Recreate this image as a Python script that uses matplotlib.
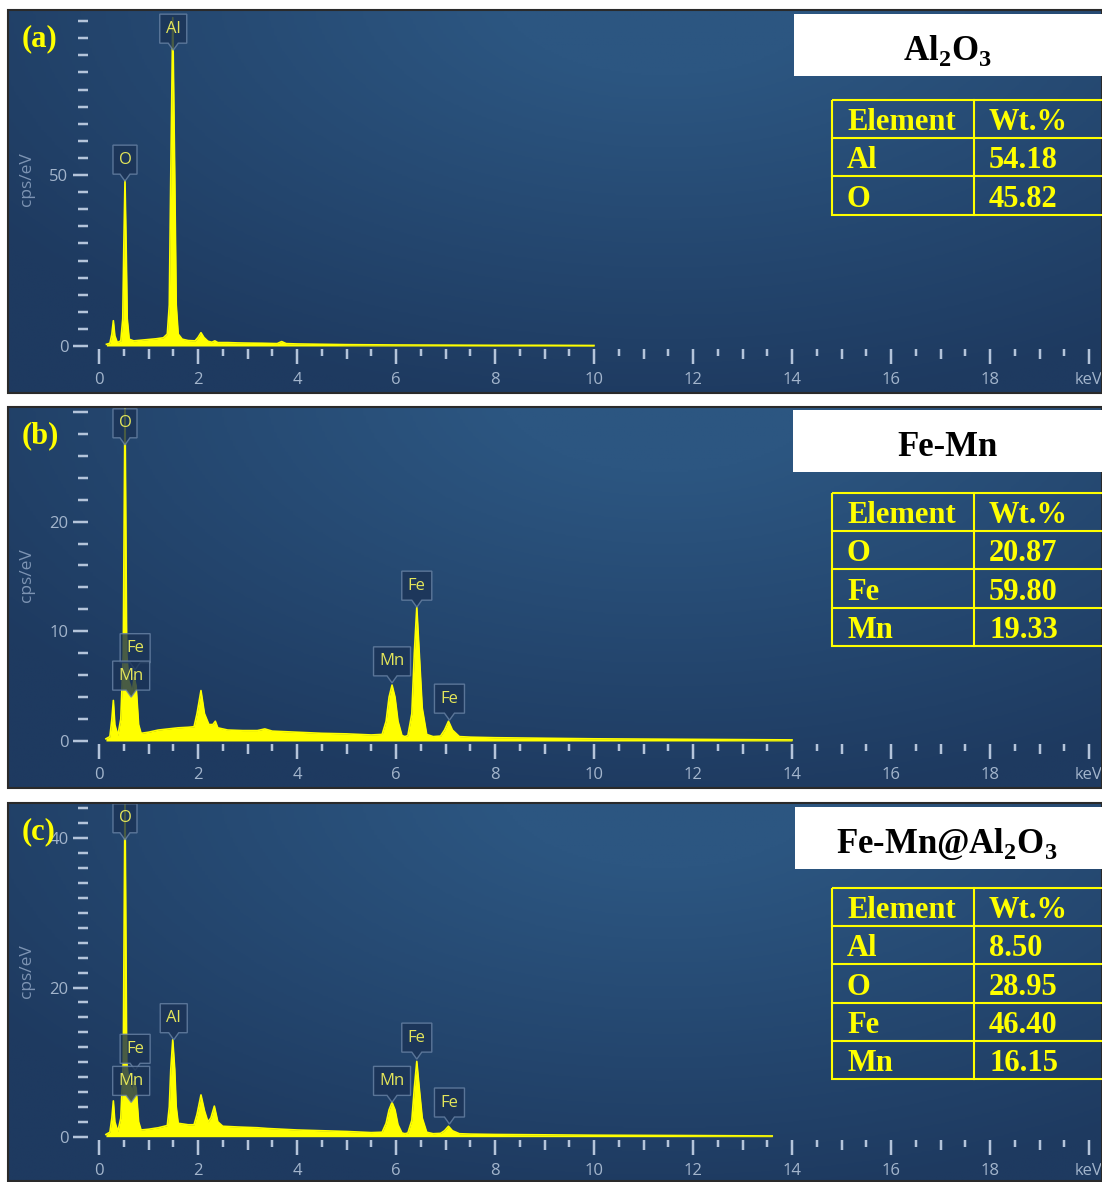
import numpy as np
import matplotlib.pyplot as plt
import matplotlib.transforms as mtransforms
from matplotlib.colors import LinearSegmentedColormap
from matplotlib.patches import Rectangle, Polygon

plt.rcParams['font.family'] = ['Open Sans', 'DejaVu Sans']
plt.rcParams['mathtext.fontset'] = 'custom'
plt.rcParams['mathtext.rm'] = 'Liberation Serif:bold'
plt.rcParams['mathtext.bf'] = 'Liberation Serif:bold'

W, H = 1102, 1182

# EDS spectra (keV, cps/eV)
energy_a = [0.15, 0.22, 0.26, 0.29, 0.32, 0.37, 0.44, 0.48, 0.50, 0.525,
            0.55, 0.57, 0.61, 0.70, 0.85, 1.00, 1.15, 1.30, 1.38, 1.42,
            1.45, 1.49, 1.53, 1.56, 1.60, 1.68, 1.80, 1.94, 2.00, 2.06,
            2.12, 2.20, 2.28, 2.34, 2.40, 2.60, 2.80, 3.00, 3.30, 3.60,
            3.69, 3.78, 4.00, 4.50, 5.00, 6.00, 7.00, 8.00, 9.00, 10.0]
counts_a = [0.5, 0.8, 3.5, 7.4, 3.0, 1.0, 1.5, 8.0, 28.0, 48.5,
            28.0, 8.0, 2.0, 1.5, 1.7, 1.9, 2.1, 2.4, 3.5, 12.0,
            50.0, 96.0, 50.0, 12.0, 3.5, 2.0, 1.6, 1.5, 2.5, 3.9,
            2.5, 1.4, 1.1, 1.5, 1.0, 1.0, 0.9, 0.85, 0.8, 0.7,
            1.3, 0.7, 0.6, 0.5, 0.4, 0.3, 0.25, 0.2, 0.2, 0.15]

energy_b = [0.14, 0.22, 0.26, 0.29, 0.32, 0.38, 0.44, 0.49, 0.525, 0.56,
            0.60, 0.64, 0.67, 0.71, 0.75, 0.80, 0.85, 1.00, 1.20, 1.40,
            1.60, 1.80, 1.92, 1.98, 2.06, 2.13, 2.22, 2.30, 2.35, 2.40,
            2.60, 2.90, 3.20, 3.35, 3.50, 4.00, 4.50, 5.00, 5.50, 5.72,
            5.80, 5.86, 5.92, 5.98, 6.04, 6.12, 6.18, 6.24, 6.32, 6.37,
            6.42, 6.47, 6.53, 6.62, 6.75, 6.90, 6.98, 7.06, 7.14, 7.28,
            7.50, 8.00, 9.00, 10.0, 12.0, 14.0]
counts_b = [0.2, 0.4, 2.0, 3.7, 1.5, 0.5, 2.0, 8.0, 31.0, 8.0,
            5.5, 5.0, 4.3, 5.8, 5.0, 1.5, 0.7, 0.8, 1.0, 1.1,
            1.2, 1.25, 1.3, 2.5, 4.6, 2.5, 1.5, 1.5, 1.8, 1.2,
            1.0, 0.95, 0.95, 1.1, 0.9, 0.8, 0.7, 0.65, 0.55, 0.6,
            1.8, 4.0, 5.1, 4.0, 1.8, 0.5, 0.4, 0.5, 2.5, 8.0,
            12.2, 8.0, 3.0, 0.6, 0.4, 0.45, 1.0, 1.8, 1.0, 0.4,
            0.35, 0.3, 0.25, 0.2, 0.15, 0.1]

energy_c = [0.14, 0.22, 0.26, 0.29, 0.32, 0.38, 0.44, 0.49, 0.525, 0.56,
            0.60, 0.64, 0.67, 0.71, 0.75, 0.80, 0.85, 1.00, 1.20, 1.38,
            1.42, 1.45, 1.49, 1.53, 1.56, 1.60, 1.80, 1.92, 1.98, 2.06,
            2.13, 2.20, 2.26, 2.33, 2.40, 2.50, 2.80, 3.20, 3.40, 4.00,
            4.50, 5.00, 5.50, 5.72, 5.80, 5.86, 5.92, 5.98, 6.04, 6.12,
            6.18, 6.24, 6.32, 6.37, 6.42, 6.47, 6.53, 6.62, 6.75, 6.90,
            6.98, 7.06, 7.14, 7.28, 7.50, 8.00, 9.00, 10.0, 12.0, 13.6]
counts_c = [0.3, 0.6, 2.5, 4.8, 2.0, 0.7, 2.5, 10.0, 46.0, 10.0,
            7.4, 6.8, 5.8, 7.4, 6.5, 2.0, 0.9, 1.0, 1.2, 1.5,
            4.0, 9.0, 13.0, 9.0, 4.0, 1.8, 1.6, 1.6, 3.0, 5.6,
            3.5, 2.0, 2.5, 4.1, 2.0, 1.4, 1.3, 1.2, 1.1, 0.9,
            0.8, 0.7, 0.55, 0.6, 1.8, 3.6, 4.6, 3.6, 1.6, 0.5,
            0.4, 0.5, 2.2, 6.5, 10.1, 6.5, 2.5, 0.6, 0.4, 0.45,
            0.8, 1.4, 0.8, 0.4, 0.35, 0.3, 0.25, 0.2, 0.15, 0.1]

# peak tags: element, energy, height of the pointer tip
peaks_a = [('O', 0.525, 48.2), ('Al', 1.50, 86.5)]
peaks_b = [('O', 0.525, 27.0), ('Fe', 0.73, 6.5), ('Mn', 0.65, 4.0),
           ('Mn', 5.92, 5.3), ('Fe', 6.42, 12.2), ('Fe', 7.08, 1.9)]
peaks_c = [('O', 0.525, 39.8), ('Fe', 0.73, 8.9), ('Mn', 0.65, 4.6), ('Al', 1.51, 13.0),
           ('Mn', 5.92, 4.6), ('Fe', 6.42, 10.4), ('Fe', 7.08, 1.7)]

titles = ['Al$_2$O$_3$', 'Fe-Mn', 'Fe-Mn@Al$_2$O$_3$']
panel_letters = ['(a)', '(b)', '(c)']
elements_a = ['Al', 'O']
wt_a = ['54.18', '45.82']
elements_b = ['O', 'Fe', 'Mn']
wt_b = ['20.87', '59.80', '19.33']
elements_c = ['Al', 'O', 'Fe', 'Mn']
wt_c = ['8.50', '28.95', '46.40', '16.15']

x_ticks = list(range(0, 21))
x_labels = ['0', '', '2', '', '4', '', '6', '', '8', '', '10', '', '12', '', '14', '',
            '16', '', '18', '', 'keV']

# layout in pixels: panel top, bottom, y of zero line, px per cps/eV
X0, PPK = 99.0, 49.5
layouts = [
    dict(top=10, bottom=393, zero=346, ppu=3.42, major=[0, 50], labels=['0', '50'], step=5, ymax=95),
    dict(top=407, bottom=788, zero=741, ppu=10.97, major=[0, 10, 20, 30], labels=['0', '10', '20', ''], step=2, ymax=30),
    dict(top=803, bottom=1181, zero=1136.7, ppu=7.46, major=[0, 20, 40], labels=['0', '20', '40'], step=2, ymax=44),
]
boxes = [dict(title=(794, 14, 76), table=100), dict(title=(793, 410, 472), table=493),
         dict(title=(795, 807, 869), table=888)]

TICK = '#b4c4da'
TLAB = '#a3b5cc'
YEL = '#ffff00'
TAG_W = {'O': 24, 'Al': 27, 'Fe': 30, 'Mn': 37}
PT = 0.72  # points per pixel at dpi 100

bg_cmap = LinearSegmentedColormap.from_list('bg', ['#1e3a60', '#2c5681'])

fig = plt.figure(figsize=(W / 100, H / 100), dpi=100)
fig.patch.set_facecolor('white')


def draw_tag(ax, name, e, v):
    w = TAG_W[name]
    trans = fig.dpi_scale_trans + mtransforms.ScaledTranslation(e, v, ax.transData)
    pts = np.array([[0, 0], [5, 7], [w / 2, 7], [w / 2, 36], [-w / 2, 36],
                    [-w / 2, 7], [-5, 7]]) / 100.0
    ax.add_patch(Polygon(pts, closed=True, transform=trans, facecolor='#1b3356',
                         edgecolor='#6a84a6', lw=1.0, alpha=0.8, zorder=5))
    ax.text(0, 0.215, name, transform=trans, ha='center', va='center',
            fontsize=12, color='#e4e65a', zorder=6)


def draw_panel(lay, energy, counts, peaks):
    top, bottom, zero, ppu = lay['top'], lay['bottom'], lay['zero'], lay['ppu']
    rect = [8 / W, 1 - bottom / H, (W - 8) / W, (bottom - top) / H]

    bg = fig.add_axes(rect, zorder=0)
    yy, xx = np.mgrid[0:1:200j, 0:1:400j]
    d = np.hypot((xx - 0.6) / 0.75, (yy - 1.05) / 1.1)
    bg.imshow(np.clip(1 - d, 0, 1), cmap=bg_cmap, extent=[0, 1, 0, 1],
              origin='lower', aspect='auto', vmin=0, vmax=0.8)
    bg.axis('off')

    ax = fig.add_axes(rect, zorder=1)
    ax.set_facecolor('none')
    ax.fill_between(energy, counts, 0, color=YEL, lw=0, zorder=2)
    ax.plot(energy, counts, color=YEL, lw=1.2, zorder=3)
    ax.set_xlim((8 - X0) / PPK, (W - X0) / PPK)
    ax.set_ylim(-(bottom - zero) / ppu, (zero - top) / ppu)

    for s in ax.spines.values():
        s.set_visible(False)
    ax.spines['left'].set_position(('data', (87.5 - X0) / PPK))
    ax.spines['bottom'].set_position(('data', -3 / ppu))

    ax.set_xticks(x_ticks, labels=x_labels)
    ax.set_xticks(np.arange(0.5, 20, 1.0), minor=True)
    ax.set_yticks(lay['major'], labels=lay['labels'])
    ax.set_yticks(np.arange(0, lay['ymax'] + 0.1, lay['step']), minor=True)
    ax.tick_params(which='both', direction='out', color=TICK, width=2.5 * PT,
                   labelcolor=TLAB, labelsize=12)
    ax.tick_params(axis='x', which='major', length=15 * PT, pad=8 * PT)
    ax.tick_params(axis='x', which='minor', length=7 * PT)
    ax.tick_params(axis='y', which='major', length=15 * PT, pad=4 * PT)
    ax.tick_params(axis='y', which='minor', length=10 * PT)
    for t, v in zip(ax.xaxis.get_major_ticks(), x_ticks):
        if v % 2:
            t.tick1line.set_markersize(10 * PT)

    for name, e, v in peaks:
        draw_tag(ax, name, e, v)
    return ax


draw_panel(layouts[0], energy_a, counts_a, peaks_a)
draw_panel(layouts[1], energy_b, counts_b, peaks_b)
draw_panel(layouts[2], energy_c, counts_c, peaks_c)

# overlay in pixel coordinates for frames, titles and tables
ov = fig.add_axes([0, 0, 1, 1], zorder=3)
ov.set_xlim(0, W)
ov.set_ylim(H, 0)
ov.axis('off')

tables = [(elements_a, wt_a), (elements_b, wt_b), (elements_c, wt_c)]
for lay, box, title, letter, (els, wts) in zip(layouts, boxes, titles, panel_letters, tables):
    top, bottom = lay['top'], lay['bottom']
    ov.add_patch(Rectangle((8, top), W - 8, bottom - top, fill=False,
                           edgecolor='#2a2a2a', lw=1.5))
    ov.text(27, (top + lay['zero'] + 3) / 2, 'cps/eV', rotation=90, ha='center',
            va='center', fontsize=12.5, color='#7d94b3')
    ov.text(22, top + 36, letter, ha='left', va='baseline', fontsize=22,
            family='Liberation Serif', weight='bold', color=YEL)

    bx, by0, by1 = box['title']
    ov.add_patch(Rectangle((bx, by0), W - bx, by1 - by0, facecolor='white', edgecolor='none'))
    ov.text(947, by1 - 16.5, title, ha='center', va='baseline', fontsize=25,
            family='Liberation Serif', weight='bold', color='black')

    rows = [('Element', 'Wt.%')] + list(zip(els, wts))
    ty = box['table']
    rh = 38.2
    n = len(rows)
    ov.add_patch(Rectangle((832, ty), W - 832 + 5, n * rh, fill=False, edgecolor=YEL, lw=1.5))
    for i in range(1, n):
        ov.plot([832, W], [ty + i * rh] * 2, color=YEL, lw=1.5)
    ov.plot([974, 974], [ty, ty + n * rh], color=YEL, lw=1.5)
    for i, (a, b) in enumerate(rows):
        yb = ty + (i + 1) * rh - 8
        ov.text(847, yb, a, ha='left', va='baseline', fontsize=22,
                family='Liberation Serif', weight='bold', color=YEL)
        ov.text(989, yb, b, ha='left', va='baseline', fontsize=22,
                family='Liberation Serif', weight='bold', color=YEL)

fig.savefig('out.png', dpi=100, facecolor='white')
